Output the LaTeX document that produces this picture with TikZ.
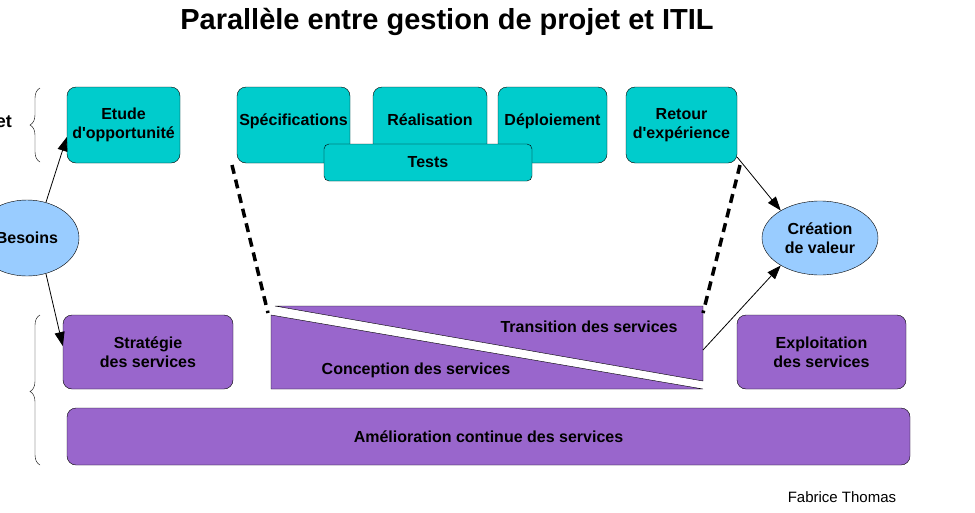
\documentclass[tikz,border=0pt]{standalone}
\usepackage{fontspec}
\setmainfont{Liberation Sans}
\usetikzlibrary{shapes.geometric,decorations.pathreplacing,arrows.meta}
\definecolor{teal1}{RGB}{0,204,204}
\definecolor{purp}{RGB}{153,102,204}
\definecolor{lblue}{RGB}{153,204,255}
\begin{document}
\begin{tikzpicture}[x=1pt,y=-1pt,
  tbox/.style={draw=black,fill=teal1,rounded corners=9pt,font=\bfseries\fontsize{16}{19}\selectfont,align=center,inner sep=0pt},
  pbox/.style={draw=black,fill=purp,rounded corners=9pt,font=\bfseries\fontsize{16}{19}\selectfont,align=center,inner sep=0pt},
  ell/.style={draw=black,fill=lblue,ellipse,inner sep=0pt,font=\bfseries\fontsize{16}{19}\selectfont,align=center},
  arr/.style={-{Triangle[length=14pt,width=10pt]},line width=0.8pt},
  lbl/.style={font=\bfseries\fontsize{16}{19}\selectfont}]
\useasboundingbox (0,0) rectangle (975,512);
\node[font=\bfseries\fontsize{29}{33}\selectfont] (title) at (447,22) {Parallèle entre gestion de projet et ITIL};
\node[tbox,minimum width=113pt,minimum height=76pt] (etude) at (123.5,125) {Etude\\d\textquotesingle opportunité};
\node[tbox,minimum width=113pt,minimum height=76pt] (spec) at (293.5,125) {\raisebox{10pt}{Spécifications}};
\node[tbox,minimum width=114pt,minimum height=76pt] (real) at (430,125) {\raisebox{10pt}{Réalisation}};
\node[tbox,minimum width=109pt,minimum height=76pt] (dep) at (552.5,125) {\raisebox{10pt}{Déploiement}};
\node[tbox,minimum width=208pt,minimum height=37pt,rounded corners=5pt] (tests) at (428,162.5) {Tests};
\node[tbox,minimum width=111pt,minimum height=76pt] (retour) at (681.5,125) {Retour\\d\textquotesingle expérience};
\node[ell,minimum width=104pt,minimum height=76pt] (besoins) at (27,238) {Besoins};
\node[ell,minimum width=116pt,minimum height=74pt] (crea) at (820,238) {Création\\de valeur};
\node[pbox,minimum width=170pt,minimum height=74pt] (strat) at (148,352) {Stratégie\\des services};
\node[pbox,minimum width=169pt,minimum height=74pt] (expl) at (821.5,352) {Exploitation\\des services};
\node[pbox,minimum width=843pt,minimum height=57pt] (amel) at (488.5,436.5) {Amélioration continue des services};
\coordinate (t1) at (275,306); \coordinate (t2) at (703,306); \coordinate (t3) at (703,381);
\coordinate (c1) at (271,315); \coordinate (c2) at (271,389); \coordinate (c3) at (703,389);
\draw[fill=purp] (t1) -- (t2) -- (t3) -- cycle;
\draw[fill=purp] (c1) -- (c2) -- (c3) -- cycle;
\node[lbl] (trans) at (589,327) {Transition des services};
\node[lbl] (conc) at (416,370) {Conception des services};
\coordinate (tmid) at (703,350);
\node[lbl,anchor=east,inner sep=0pt,font=\bfseries\fontsize{18}{20}\selectfont] (et) at (12,122) {et};
\draw[decorate,decoration={brace,amplitude=10pt}] (40,162) -- (40,88);
\draw[decorate,decoration={brace,amplitude=10pt,aspect=0.49}] (40,465) -- (40,315);
\draw[line width=3.5pt,dash pattern=on 9pt off 6pt] (232,165) -- (268,313);
\draw[line width=3.5pt,dash pattern=on 9pt off 6pt] (740,165) -- (703,313);
\draw[arr] (besoins.62) -- (etude.192);
\draw[arr] (besoins.-62) -- (strat.176);
\draw[arr] (retour.-30) -- (crea.145);
\draw[arr] (tmid) -- (crea.-145);
\node[font=\fontsize{15}{17}\selectfont] (author) at (842,497) {Fabrice Thomas};
\end{tikzpicture}
\end{document}
